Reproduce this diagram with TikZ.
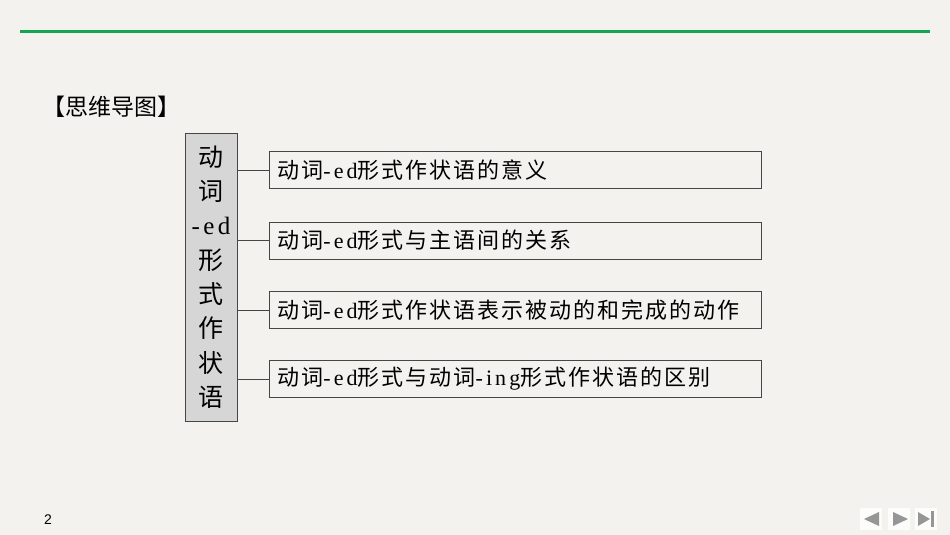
\documentclass[tikz,border=0pt]{standalone}
\usepackage{fontspec}
\setmainfont{Liberation Serif}[LetterSpace=14]
\setsansfont{Liberation Sans}
\newfontfamily\cjk[LetterSpace=9]{Noto Sans CJK SC}
\newfontfamily\cjktitle{Noto Sans CJK SC}
\newcommand{\zh}[1]{{\cjk #1}}
\definecolor{paper}{RGB}{244,242,239}
\definecolor{rulegreen}{RGB}{20,164,82}
\definecolor{edgegray}{RGB}{70,70,70}
\definecolor{stemfill}{RGB}{214,214,214}
\definecolor{navgray}{RGB}{150,150,150}
\tikzset{
	stem/.style={draw=edgegray, fill=stemfill, line width=0.9pt, minimum width=52pt, minimum height=288pt, inner sep=0pt, align=center, font=\fontsize{25}{34.3}\selectfont},
	branch/.style={draw=edgegray, line width=0.9pt, minimum height=37pt, text width=476pt, inner xsep=8pt, inner ysep=0pt, align=left, anchor=west, font=\fontsize{22}{26}\selectfont},
	link/.style={draw=edgegray, line width=0.8pt}
}
\begin{document}
\begin{tikzpicture}[x=1pt, y=-1pt]
		\useasboundingbox (0,0) rectangle (950,535);
		\fill[paper] (0,0) rectangle (950,535);
		\draw[rulegreen, line width=3pt] (20,31.5) -- (930,31.5);

		\node[anchor=west, inner sep=0pt, font=\fontsize{23}{26}\selectfont] (title) at (42,107) {\cjktitle 【思维导图】};

		\node[stem] (main) at (211,277) {\zh{动}\\\zh{词}\\-ed\\\zh{形}\\\zh{式}\\\zh{作}\\\zh{状}\\\zh{语}};

		\node[branch] (b1) at (269,170) {\zh{动词}-ed\zh{形式作状语的意义}};
		\node[branch] (b2) at (269,240.5) {\zh{动词}-ed\zh{形式与主语间的关系}};
		\node[branch] (b3) at (269,310) {\zh{动词}-ed\zh{形式作状语表示被动的和完成的动作}};
		\node[branch] (b4) at (269,379) {\zh{动词}-ed\zh{形式与动词}-ing\zh{形式作状语的区别}};
		\foreach \i in {1,2,3,4}{
			\draw[link] (main.east |- b\i.west) -- (b\i.west);
		}

		\node[font=\sffamily\fontsize{14}{16}\selectfont, inner sep=0pt] (page) at (48,520) {2};
		% navigation buttons
		\foreach \bx in {860,888,915}{
			\fill[white, opacity=0.8] (\bx,508) rectangle +(22,22);
		}
		\fill[navgray] (879,512) -- (879,526) -- (864,519) -- cycle;
		\fill[navgray] (893,512) -- (893,526) -- (908,519) -- cycle;
		\fill[navgray] (918,512) -- (918,526) -- (930,519) -- cycle;
		\fill[navgray] (931,511) rectangle (934,527);
	\end{tikzpicture}
\end{document}
